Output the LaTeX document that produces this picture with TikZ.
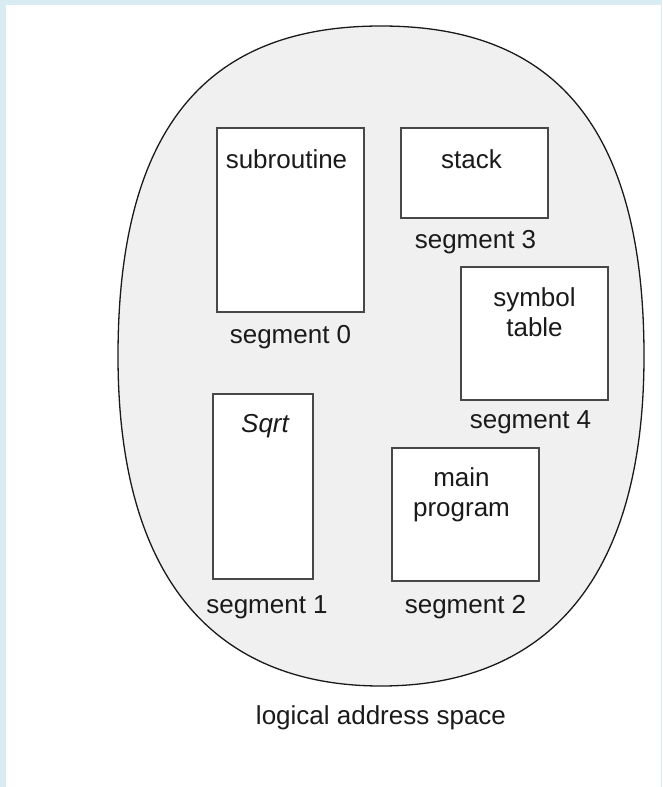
\documentclass[tikz,border=0pt]{standalone}
\usepackage{fontspec}
\setmainfont{Liberation Sans}
\usetikzlibrary{positioning}
\definecolor{frame}{HTML}{DAECF3}
\definecolor{ink}{HTML}{1A1A1A}
\definecolor{speck}{HTML}{F0F0F0}

\begin{document}
\begin{tikzpicture}[
  x=1pt, y=-1pt,
  font=\fontsize{26}{30}\selectfont,
  segbox/.style={draw=ink!80, fill=white, line width=1.2pt,
                 rectangle, inner sep=0pt},
  segname/.style={inner sep=0pt, align=center, text=ink},
  seglab/.style={inner sep=0pt, text=ink},
  space/.style={draw=ink, fill=speck, line width=1.3pt},
  captxt/.style={inner sep=0pt, text=ink},
]
\useasboundingbox (0,0) rectangle (662,787);
\fill[frame] (0,0) rectangle (662,787);
\fill[white] (6,5) rectangle (660.5,787);

% the logical address space
\draw[space] (644,356) .. controls (644,108.5) and (538.8,26) .. (381,26)
  .. controls (223.2,26) and (118,108.5) .. (118,356)
  .. controls (118,603.5) and (236.4,686) .. (381,686)
  .. controls (525.6,686) and (644,603.5) .. cycle;
\coordinate (bot) at (381,686);

\node[segbox, minimum width=147pt, minimum height=184pt] (sub)   at (290.5,220) {};
\node[segbox, minimum width=147pt, minimum height=90pt]  (stack) at (474.5,173) {};
\node[segbox, minimum width=147pt, minimum height=133pt] (sym)   at (534.5,333.5) {};
\node[segbox, minimum width=100pt, minimum height=185pt] (sqrt)  at (263,486.5) {};
\node[segbox, minimum width=147pt, minimum height=133pt] (main)  at (465.5,514.5) {};

\node[segname] (subname)   at ([xshift=-4pt,yshift=-32pt]sub.north) {subroutine};
\node[segname] (stackname) at ([xshift=-3pt,yshift=-32pt]stack.north) {stack};
\node[segname] (symname)   at ([yshift=-46pt]sym.north) {symbol\\table};
\node[segname] (sqrtname)  at ([xshift=2pt,yshift=-33pt]sqrt.north) {\itshape Sqrt};
\node[segname] (mainname)  at ([xshift=-4pt,yshift=-47pt]main.north) {main\\program};

\node[seglab, below=13pt of sub]                (seg0) {segment 0};
\node[seglab, below=12pt of stack, xshift=1pt]  (seg3) {segment 3};
\node[seglab, below=10pt of sym, xshift=-4pt]   (seg4) {segment 4};
\node[seglab, below=16pt of sqrt, xshift=4pt]   (seg1) {segment 1};
\node[seglab, below=14pt of main]               (seg2) {segment 2};

\node[captxt, below=19pt of bot] (cap) {logical address space};
\end{tikzpicture}
\end{document}
